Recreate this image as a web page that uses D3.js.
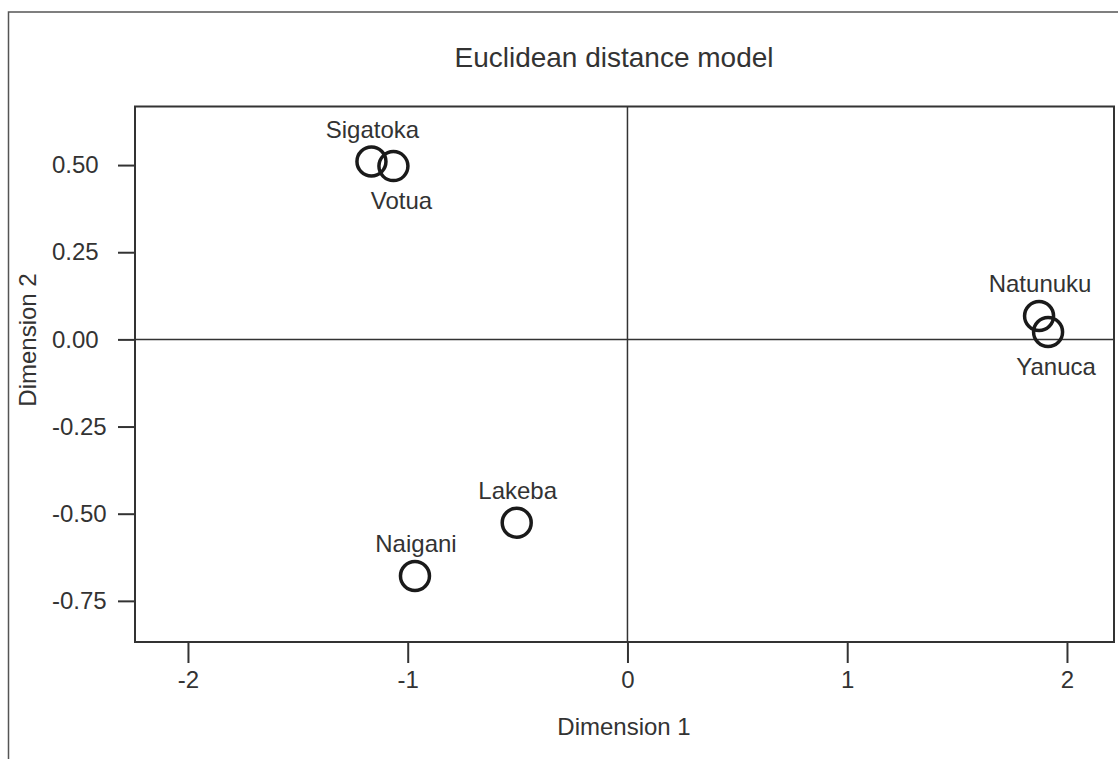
<!DOCTYPE html>
<html>
<head>
<meta charset="utf-8">
<script src="https://cdn.jsdelivr.net/npm/d3@7"></script>
<style>
  body { margin: 0; background: #fff; }
  text { font-family: "Liberation Sans", Arial, sans-serif; fill: #333; }
</style>
</head>
<body>
<div id="chart"></div>
<script>
// site names and their coordinates on the two dimensions
var sites = ["Sigatoka", "Votua", "Natunuku", "Yanuca", "Lakeba", "Naigani"];
var dim1 = [-1.165, -1.065, 1.873, 1.914, -0.504, -0.967];
var dim2 = [0.510, 0.497, 0.067, 0.021, -0.526, -0.679];
// label placement: above or below the circle
var labelSide = ["above", "below", "above", "below", "above", "above"];

var xTicks = [-2, -1, 0, 1, 2];
var yTicks = [0.50, 0.25, 0.00, -0.25, -0.50, -0.75];

var width = 1118,
height = 759;

var plotL = 135, plotR = 1114, plotT = 106.5, plotB = 642;

var x = d3.scaleLinear()
  .domain([-2.241, 2.214])
  .range([plotL, plotR]);

var y = d3.scaleLinear()
  .domain([-0.868, 0.668])
  .range([plotB, plotT]);

// plain hyphen for negatives, like the original
function hyph(f) {
  return function(d) { return f(d).replace("\u2212", "-"); };
}

var svg = d3.select("#chart").append("svg")
  .attr("width", width)
  .attr("height", height);

// outer frame (only top and left edges show)
svg.append("path")
  .attr("d", "M8.5,759 L8.5,12 L1118,12")
  .attr("fill", "none")
  .attr("stroke", "#555")
  .attr("stroke-width", 1.5);

// title
svg.append("text")
  .attr("x", 614)
  .attr("y", 67)
  .attr("text-anchor", "middle")
  .style("font-size", "28px")
  .text("Euclidean distance model");

// zero lines
svg.append("line")
  .attr("x1", plotL).attr("x2", plotR)
  .attr("y1", y(0)).attr("y2", y(0))
  .attr("stroke", "#333").attr("stroke-width", 1.5);
svg.append("line")
  .attr("x1", x(0)).attr("x2", x(0))
  .attr("y1", plotT).attr("y2", plotB)
  .attr("stroke", "#333").attr("stroke-width", 1.5);

// x axis
var xAxis = svg.append("g")
  .attr("transform", "translate(0," + plotB + ")")
  .call(d3.axisBottom(x).tickValues(xTicks).tickSize(21).tickPadding(8).tickFormat(hyph(d3.format("d"))));
xAxis.select(".domain").remove();
xAxis.selectAll("line").attr("stroke", "#333").attr("stroke-width", 2);
xAxis.selectAll("text")
  .style("font-size", "24px")
  .style("font-family", "Liberation Sans, Arial, sans-serif")
  .attr("fill", "#333");

// y axis
var yAxis = svg.append("g")
  .attr("transform", "translate(" + plotL + ",0)")
  .call(d3.axisLeft(y).tickValues(yTicks).tickSize(17).tickFormat(hyph(d3.format(".2f"))));
yAxis.select(".domain").remove();
yAxis.selectAll("line").attr("stroke", "#333").attr("stroke-width", 2);
yAxis.selectAll("text")
  .attr("x", 52 - plotL)
  .attr("text-anchor", "start")
  .style("font-size", "24px")
  .style("font-family", "Liberation Sans, Arial, sans-serif")
  .attr("fill", "#333");

// plot box
svg.append("rect")
  .attr("x", plotL).attr("y", plotT)
  .attr("width", plotR - plotL).attr("height", plotB - plotT)
  .attr("fill", "none")
  .attr("stroke", "#333")
  .attr("stroke-width", 2);

// axis titles
svg.append("text")
  .attr("x", 624)
  .attr("y", 735)
  .attr("text-anchor", "middle")
  .style("font-size", "24px")
  .text("Dimension 1");

svg.append("text")
  .attr("transform", "translate(36,340) rotate(-90)")
  .attr("text-anchor", "middle")
  .style("font-size", "24px")
  .text("Dimension 2");

// points
var idx = d3.range(sites.length);

svg.selectAll("circle.pt")
  .data(idx)
  .enter().append("circle")
  .attr("class", "pt")
  .attr("cx", function(i) { return x(dim1[i]); })
  .attr("cy", function(i) { return y(dim2[i]); })
  .attr("r", 14.5)
  .attr("fill", "none")
  .attr("stroke", "#1a1a1a")
  .attr("stroke-width", 3.5);

svg.selectAll("text.lab")
  .data(idx)
  .enter().append("text")
  .attr("class", "lab")
  .attr("x", function(i) { return x(dim1[i]) + (labelSide[i] == "below" ? 8 : 1); })
  .attr("y", function(i) { return y(dim2[i]) + (labelSide[i] == "below" ? 43 : -24); })
  .attr("text-anchor", "middle")
  .style("font-size", "24px")
  .text(function(i) { return sites[i]; });
</script>
</body>
</html>
